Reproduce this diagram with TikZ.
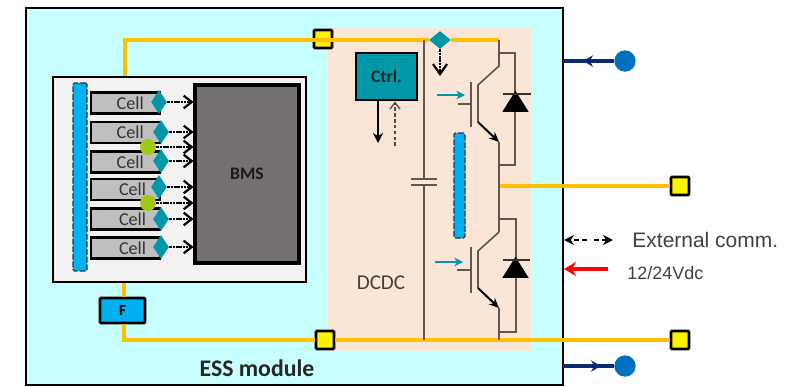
\documentclass[tikz,border=0pt]{standalone}
\usepackage{fontspec}
\setmainfont{Carlito}
\newfontfamily\labelfont{Liberation Sans}
\usetikzlibrary{shapes.geometric,arrows.meta}
\definecolor{modulecol}{HTML}{C8FFFF}
\definecolor{pinkcol}{HTML}{FBE5D6}
\definecolor{railcol}{HTML}{FFC000}
\definecolor{barcol}{HTML}{00B0F0}
\definecolor{tealcol}{HTML}{0097A7}
\definecolor{greencol}{HTML}{A0C814}
\definecolor{navycol}{HTML}{0B2A6F}
\definecolor{dotcol}{HTML}{0070C0}
\definecolor{wirecol}{HTML}{5F5750}
\definecolor{bmscol}{HTML}{767171}
\begin{document}
\begin{tikzpicture}[x=0.03cm, y=-0.03cm, thick,
	cell/.style = {draw, line width=2pt, fill=black!25, minimum width=20.7mm, minimum height=6.3mm, inner sep=0pt, font=\fontsize{15.5}{15.5}\selectfont, text=black!80},
	sensor/.style = {diamond, fill=tealcol, minimum width=4.8mm, minimum height=7.2mm, inner sep=0pt},
	link/.style = {circle, fill=greencol, minimum size=4.8mm, inner sep=0pt},
	term/.style = {draw, line width=2.2pt, fill=yellow, minimum size=5.4mm, inner sep=0pt, rounded corners=0.3mm},
	pole/.style = {circle, fill=dotcol, minimum size=6.4mm, inner sep=0pt},
	rail/.style = {draw=railcol, line width=2.6pt},
	wire/.style = {draw=wirecol, line width=1.4pt},
	tap/.style = {line width=1.9pt, dash pattern=on 2.2pt off 0.6pt, -{Straight Barb[length=2.4mm,width=3.8mm]}},
	power/.style = {navycol, line width=3pt, -{Stealth[length=3mm,width=3.4mm]}},
	drive/.style = {tealcol, line width=1.5pt, -{Stealth[length=2.6mm,width=2.6mm]}},
	emit/.style = {line width=1.7pt, -{Stealth[length=3mm,width=2.6mm]}},
	busbar/.style = {draw=black!80, line width=0.9pt, dash pattern=on 5pt off 1.5pt, fill=barcol, rounded corners=0.4mm, inner sep=0pt}]
	\useasboundingbox (0,0) rectangle (794,386);

	% module and converter areas
	\node[draw, line width=2.2pt, fill=modulecol, minimum width=161.1mm, minimum height=113.1mm, inner sep=0pt] (module) at (294.5,196.5) {};
	\node[fill=pinkcol, minimum width=61.2mm, minimum height=96.6mm, inner sep=0pt] (dcdc) at (430,189.5) {};
	\node[font=\fontsize{18}{18}\selectfont, text=black!75] (dcdclabel) at (381,283) {DCDC};
	\node[font=\bfseries\fontsize{20.3}{20.3}\selectfont, text=black!85] (esslabel) at (257,368) {ESS module};

	% battery pack
	\coordinate (packtop) at (125,77);
	\coordinate (packbottom) at (124,282);
	\coordinate (cornertop) at (125,40);
	\coordinate (cornerbottom) at (124,340);
	\node[term] (termtop) at (323,39) {};
	\node[term] (termbottom) at (325,340) {};
	\node[term] (termmid) at (680,186) {};
	\node[term] (termout) at (680,340) {};
	\node[sensor, minimum width=6.6mm, minimum height=5.4mm] (senstop) at (440,40) {};
	\coordinate (railtop) at (499,40);
	\coordinate (railbottom) at (499,340);
	\coordinate (capbottom) at (424,340);
	\coordinate (midtap) at (499,186);
	\node[draw, line width=2.2pt, fill=barcol, rounded corners=0.3mm, minimum width=13.5mm, minimum height=7.5mm, inner sep=0pt, font=\bfseries\fontsize{13}{13}\selectfont] (fuse) at (122.5,310.5) {F};
	\path[rail] (packtop) -- (cornertop) -- (cornertop -| termtop);
	\path[rail] (cornertop -| termtop) -- (senstop) -- (railtop);
	\path[rail] (packbottom) -- (packbottom |- fuse.north);
	\path[rail] (packbottom |- fuse.south) -- (cornerbottom) -- (termbottom);
	\path[rail] (termbottom) -- (termout);
	\path[rail] (midtap) -- (termmid);

	\node[draw, line width=2pt, fill=black!5, minimum width=75.9mm, minimum height=61.5mm, inner sep=0pt] (pack) at (179.5,179.5) {};
	\node[draw, line width=2.6pt, fill=bmscol, minimum width=31.2mm, minimum height=53.4mm, inner sep=0pt, font=\bfseries\fontsize{15}{15}\selectfont, text=black!90] (bms) at (247,174) {BMS};
	\node[busbar, minimum width=4.2mm, minimum height=56.4mm] (packbar) at (80,177) {};

	\node[cell] (cell1) at (125.5,103) {\hspace{8pt}\raisebox{-3pt}{Cell}};
	\node[cell] (cell2) at (125.5,132.5) {\hspace{8pt}\raisebox{-3pt}{Cell}};
	\node[cell] (cell3) at (125.5,162) {\hspace{8pt}\raisebox{-3pt}{Cell}};
	\node[cell] (cell4) at (125.5,189.5) {\hspace{12pt}\raisebox{-3pt}{Cell}};
	\node[cell] (cell5) at (125.5,219) {\hspace{12pt}\raisebox{-3pt}{Cell}};
	\node[cell] (cell6) at (125.5,248) {\hspace{12pt}\raisebox{-3pt}{Cell}};

	\node[sensor] (sens1) at (159,102) {};
	\node[sensor] (sens2) at (161,132) {};
	\node[sensor] (sens3) at (161,161) {};
	\node[sensor] (sens4) at (159,187) {};
	\node[sensor] (sens5) at (161,219) {};
	\node[sensor] (sens6) at (161,247) {};
	\node[link] (link1) at (148,147) {};
	\node[link] (link2) at (148,203) {};

	\draw[tap] (sens1) -- (sens1 -| bms.west);
	\draw[tap] (sens2) -- (sens2 -| bms.west);
	\draw[tap] (link1) -- (link1 -| bms.west);
	\draw[tap] (sens3) -- (sens3 -| bms.west);
	\draw[tap] (sens4) -- (sens4 -| bms.west);
	\draw[tap] (link2) -- (link2 -| bms.west);
	\draw[tap] (sens5) -- (sens5 -| bms.west);
	\draw[tap] (sens6) -- (sens6 -| bms.west);

	% control board
	\node[draw, line width=2.4pt, fill=tealcol, minimum width=18.3mm, minimum height=14.1mm, inner sep=0pt, font=\bfseries\fontsize{15}{15}\selectfont, text=black!85] (ctrl) at (386.5,76.5) {Ctrl.};
	\coordinate (ctrlout) at (378,143);
	\coordinate (ctrlin) at (395,146);
	\draw[line width=1.2pt, -{Stealth[length=3mm,width=3mm]}] (ctrl.south -| ctrlout) -- (ctrlout);
	\draw[black!70, line width=1.1pt, dash pattern=on 3pt off 2pt, -{Straight Barb[length=2mm,width=3mm]}] (ctrlin) -- (ctrl.south -| ctrlin);
	\coordinate (sensend) at (440,76);
	\draw[tap, -{Straight Barb[length=3mm,width=4.2mm]}] (senstop) -- (sensend);

	% dc link capacitor
	\coordinate (captop) at (424,40);
	\coordinate (plateone) at (424,179);
	\coordinate (platetwo) at (424,185);
	\draw[wire] (captop) -- (plateone);
	\draw[wire] (platetwo) -- (capbottom);
	\draw[wire] (411,179) -- (437,179);
	\draw[wire] (411,185) -- (437,185);
	\node[busbar, minimum width=3.3mm, minimum height=31.5mm] (dcbar) at (459.5,185.5) {};

	% upper switch
	\coordinate (collone) at (499,66);
	\coordinate (baseone) at (478,85);
	\coordinate (emitone) at (478,122);
	\coordinate (endone) at (499,142);
	\draw[wire] (railtop) -- (collone) -- (baseone) -- (emitone);
	\draw[wire] (471,82) -- (471,127);
	\draw[wire] (458,104) -- (471,104);
	\draw[emit] (emitone) -- (endone);
	\draw[wire] (endone) -- (499,232);
	\draw[wire] (499,53) -- (515,53) -- (515,165) -- (499,165);
	\node[isosceles triangle, isosceles triangle apex angle=64, shape border rotate=90, fill=black, minimum height=6.3mm, inner sep=0pt] (diodeone) at (515.5,104.5) {};
	\draw[line width=1.1pt, black!80] (503,94) -- (531,94);
	\coordinate (driveone) at (437,95);
	\coordinate (gateone) at (465,95);
	\draw[drive] (driveone) -- (gateone);

	% lower switch
	\coordinate (colltwo) at (499,232);
	\coordinate (basetwo) at (478,251);
	\coordinate (emittwo) at (478,288);
	\coordinate (endtwo) at (499,308);
	\draw[wire] (colltwo) -- (basetwo) -- (emittwo);
	\draw[wire] (471,247) -- (471,293);
	\draw[wire] (457,270) -- (471,270);
	\draw[emit] (emittwo) -- (endtwo);
	\draw[wire] (endtwo) -- (railbottom);
	\draw[wire] (499,219) -- (516,219) -- (516,332) -- (499,332);
	\node[isosceles triangle, isosceles triangle apex angle=64, shape border rotate=90, fill=black, minimum height=6.3mm, inner sep=0pt] (diodetwo) at (515.5,270.5) {};
	\draw[line width=1.1pt, black!80] (503,260) -- (530,260);
	\coordinate (drivetwo) at (435,262);
	\coordinate (gatetwo) at (463,262);
	\draw[drive] (drivetwo) -- (gatetwo);

	% outside connections
	\node[pole] (poleup) at (625,61) {};
	\node[pole] (poledown) at (625,366) {};
	\coordinate (entryup) at (563,61);
	\coordinate (entrydown) at (563,366);
	\path[draw=navycol, line width=3pt] (entryup) -- (poleup);
	\path[draw=navycol, line width=3pt] (entrydown) -- (poledown);
	\draw[power] (poleup) -- (583,61);
	\draw[power] (entrydown) -- (601,366);

	\node[anchor=west, inner sep=0pt, font=\labelfont\fontsize{17.9}{17.9}\selectfont, text=black!75] (commlabel) at (632,240) {External comm.};
	\node[anchor=west, inner sep=0pt, font=\labelfont\fontsize{15.3}{15.3}\selectfont, text=black!75] (supplylabel) at (627,273) {12/24Vdc};
	\coordinate (commmid) at (587,240);
	\coordinate (commend) at (613,240);
	\coordinate (commstart) at (564,240);
	\draw[line width=1.4pt, dash pattern=on 4pt off 3pt, -{Stealth[length=3mm,width=3mm]}] (commmid) -- (commstart);
	\draw[line width=1.4pt, dash pattern=on 4pt off 3pt, -{Stealth[length=3mm,width=3mm]}] (594,240) -- (commend);
	\coordinate (supplystart) at (608,269);
	\coordinate (supplyend) at (564,269);
	\draw[red, line width=3.6pt, -{Stealth[length=3.6mm,width=4.2mm]}] (supplystart) -- (supplyend);
\end{tikzpicture}
\end{document}
